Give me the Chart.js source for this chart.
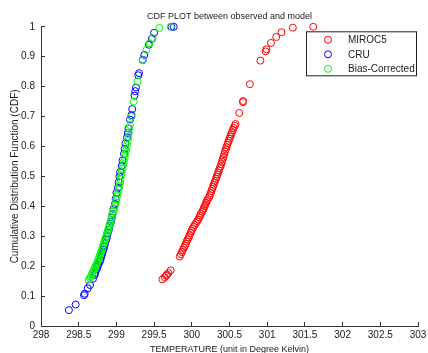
<!DOCTYPE html>
<html>
<head>
<meta charset="utf-8">
<title>CDF PLOT between observed and model</title>
<script src="https://cdn.jsdelivr.net/npm/chart.js@4/dist/chart.umd.min.js"></script>
<style>
  html, body { margin: 0; padding: 0; background: #fff; }
  #cdfChart { display: block; }
</style>
</head>
<body>
<canvas id="cdfChart" width="428" height="353"></canvas>
<script>
// values (temperature in K, CDF)
const seriesNames = ['MIROC5', 'CRU', 'Bias-Corrected'];

const mirocTemp = [
  299.61, 299.64, 299.66, 299.67, 299.69, 299.72,
  299.84, 299.855, 299.87, 299.88, 299.895, 299.91, 299.92, 299.93, 299.945, 299.96,
  299.97, 299.985, 299.995, 300.01, 300.025, 300.04, 300.055, 300.07, 300.085, 300.10,
  300.11, 300.12, 300.14, 300.15, 300.16, 300.17, 300.18, 300.19, 300.20, 300.21,
  300.23, 300.24, 300.25, 300.26, 300.27, 300.28, 300.29, 300.30, 300.31, 300.32,
  300.33, 300.34, 300.35, 300.36, 300.37, 300.38, 300.39, 300.40, 300.41, 300.42,
  300.43, 300.44, 300.45, 300.46, 300.47, 300.48, 300.49, 300.50, 300.51, 300.52,
  300.53, 300.545, 300.555, 300.57, 300.58,
  300.63, 300.68, 300.68, 300.77, 300.91, 300.98, 300.99, 301.05, 301.12, 301.19,
  301.34, 301.61
];
const mirocCdf = [
  0.156, 0.163, 0.168, 0.172, 0.177, 0.186,
  0.232, 0.240, 0.247, 0.254, 0.262, 0.268, 0.275, 0.282, 0.289, 0.296,
  0.303, 0.311, 0.318, 0.325, 0.332, 0.338, 0.344, 0.350, 0.356, 0.363,
  0.369, 0.375, 0.382, 0.388, 0.394, 0.400, 0.406, 0.412, 0.418, 0.424,
  0.430, 0.437, 0.444, 0.451, 0.458, 0.465, 0.472, 0.479, 0.485, 0.492,
  0.499, 0.506, 0.513, 0.520, 0.527, 0.533, 0.541, 0.549, 0.557, 0.565,
  0.574, 0.583, 0.590, 0.597, 0.605, 0.612, 0.619, 0.626, 0.633, 0.640,
  0.647, 0.655, 0.662, 0.669, 0.675,
  0.712, 0.748, 0.752, 0.808, 0.887, 0.918, 0.925, 0.946, 0.966, 0.982,
  0.997, 1.0
];

const cruTemp = [
  298.37, 298.46, 298.57, 298.58, 298.62, 298.65, 298.69, 298.71, 298.72, 298.74,
  298.75, 298.76, 298.78, 298.79, 298.80, 298.81, 298.82, 298.83, 298.84, 298.85,
  298.865, 298.875, 298.886, 298.90, 298.91, 298.93, 298.94, 298.95, 298.96, 298.98,
  298.99, 299.00, 299.02, 299.03, 299.04, 299.05, 299.07, 299.08, 299.10, 299.11,
  299.12, 299.14, 299.15, 299.16, 299.18, 299.20, 299.21, 299.24, 299.25, 299.26,
  299.29, 299.30, 299.35, 299.37, 299.43, 299.47, 299.50, 299.73, 299.76
];
const cruCdf = [
  0.053, 0.072, 0.103, 0.108, 0.126, 0.137, 0.158, 0.170, 0.178, 0.190,
  0.198, 0.205, 0.215, 0.222, 0.232, 0.240, 0.249, 0.257, 0.265, 0.276,
  0.288, 0.298, 0.310, 0.322, 0.334, 0.349, 0.362, 0.375, 0.392, 0.408,
  0.425, 0.445, 0.462, 0.480, 0.500, 0.515, 0.535, 0.553, 0.575, 0.592,
  0.610, 0.630, 0.645, 0.660, 0.690, 0.705, 0.725, 0.770, 0.785, 0.797,
  0.838, 0.845, 0.890, 0.906, 0.940, 0.960, 0.980, 1.0, 1.0
];

const biasTemp = [
  298.63, 298.65, 298.66, 298.67, 298.68, 298.69, 298.70, 298.71, 298.72, 298.73,
  298.74, 298.75, 298.76, 298.77, 298.78, 298.79, 298.80, 298.81, 298.82, 298.83,
  298.84, 298.85, 298.86, 298.87, 298.88, 298.89, 298.90, 298.91, 298.92, 298.93,
  298.94, 298.95, 298.96, 298.97, 298.98, 298.99, 299.00, 299.01, 299.02, 299.03,
  299.04, 299.05, 299.055, 299.06, 299.07, 299.08, 299.09, 299.10, 299.11, 299.12,
  299.13, 299.14, 299.15, 299.16, 299.165, 299.17, 299.18, 299.20, 299.23, 299.28,
  299.35, 299.40, 299.44, 299.48, 299.57, 299.72
];
const biasCdf = [
  0.154, 0.160, 0.165, 0.170, 0.176, 0.181, 0.186, 0.192, 0.197, 0.203,
  0.209, 0.215, 0.222, 0.229, 0.236, 0.243, 0.250, 0.258, 0.266, 0.274,
  0.282, 0.290, 0.298, 0.306, 0.314, 0.322, 0.330, 0.338, 0.347, 0.356,
  0.365, 0.374, 0.383, 0.393, 0.403, 0.413, 0.423, 0.434, 0.445, 0.456,
  0.467, 0.478, 0.490, 0.502, 0.514, 0.526, 0.538, 0.551, 0.564, 0.577,
  0.590, 0.604, 0.618, 0.632, 0.646, 0.660, 0.672, 0.700, 0.750, 0.817,
  0.888, 0.923, 0.945, 0.962, 0.996, 1.0
];

const seriesColors = ['#ff0000', '#0000ff', '#00ff00'];

function toPoints(xs, ys) {
  return xs.map((x, i) => ({ x: x, y: ys[i] }));
}

// matlab style tick text: 298, 298.5, 0.1, 1
function plainTick(v) {
  return String(Number(v.toFixed(2)));
}

const FONT = 'Arial, "Liberation Sans", Helvetica, sans-serif';
const TEXT = '#1a1a1a';
const AXIS = '#333333';

// legend box in the upper right, drawn like the matlab one
const boxLegend = {
  id: 'boxLegend',
  afterDraw(chart) {
    const ctx = chart.ctx;
    const area = chart.chartArea;
    const bx = area.right - 112, by = area.top + 4.5, bw = 110, bh = 44;
    ctx.save();
    ctx.fillStyle = '#ffffff';
    ctx.fillRect(bx, by, bw, bh);
    ctx.strokeStyle = '#222';
    ctx.lineWidth = 1;
    ctx.strokeRect(bx + 0.5, by + 0.5, bw, bh);
    ctx.font = '10px ' + FONT;
    ctx.textBaseline = 'middle';
    chart.data.datasets.forEach((ds, i) => {
      const cy = by + 8.5 + i * 14.5;
      ctx.beginPath();
      ctx.arc(bx + 22, cy, 3.5, 0, Math.PI * 2);
      ctx.strokeStyle = ds.borderColor;
      ctx.stroke();
      ctx.fillStyle = TEXT;
      ctx.fillText(ds.label, bx + 42, cy + 0.5);
    });
    ctx.restore();
  }
};

const ctx = document.getElementById('cdfChart').getContext('2d');
const cdfChart = new Chart(ctx, {
  type: 'scatter',
  data: {
    datasets: [
      { label: seriesNames[0], data: toPoints(mirocTemp, mirocCdf), borderColor: seriesColors[0], order: 2 },
      { label: seriesNames[1], data: toPoints(cruTemp, cruCdf), borderColor: seriesColors[1], order: 1 },
      { label: seriesNames[2], data: toPoints(biasTemp, biasCdf), borderColor: seriesColors[2], order: 0 }
    ]
  },
  options: {
    responsive: false,
    animation: false,
    devicePixelRatio: 1,
    layout: { padding: { left: 0, right: 10, top: 0, bottom: 0 } },
    elements: {
      point: { radius: 3.5, borderWidth: 1, backgroundColor: 'rgba(0,0,0,0)', hoverRadius: 3.5 }
    },
    datasets: { scatter: { clip: false } },
    plugins: {
      legend: { display: false },
      tooltip: { enabled: false },
      title: {
        display: true,
        fullSize: false,   // center over the plot area, not the whole canvas
        text: 'CDF PLOT between observed and model',
        color: TEXT,
        font: { family: FONT, size: 9, weight: 'normal' },
        padding: { top: 11, bottom: 5 }
      }
    },
    scales: {
      x: {
        type: 'linear',
        min: 298,
        max: 303,
        ticks: {
          stepSize: 0.5, color: TEXT, font: { family: FONT, size: 10 }, padding: 7,
          maxRotation: 0, autoSkip: false, callback: plainTick
        },
        grid: { drawOnChartArea: false, drawTicks: true, tickLength: -4, color: AXIS },
        border: { display: true, color: AXIS, width: 1 },
        title: {
          display: true,
          text: 'TEMPERATURE (unit in Degree Kelvin)',
          color: TEXT,
          font: { family: FONT, size: 9 },
          padding: { top: 0, bottom: -2 }
        },
        afterFit: s => { s.height = 27; s.paddingLeft = 0; s.paddingRight = 0; }
      },
      y: {
        type: 'linear',
        min: 0,
        max: 1,
        ticks: {
          stepSize: 0.1, color: TEXT, font: { family: FONT, size: 10 }, padding: 10,
          callback: plainTick
        },
        grid: { drawOnChartArea: false, drawTicks: true, tickLength: -4, color: AXIS },
        border: { display: true, color: AXIS, width: 1 },
        title: {
          display: true,
          text: 'Cumulative Distribution Function (CDF)',
          color: TEXT,
          font: { family: FONT, size: 10 },
          padding: { top: 9, bottom: 0 }
        },
        afterFit: s => { s.width = 41; }
      }
    }
  },
  plugins: [boxLegend]
});
</script>
</body>
</html>
